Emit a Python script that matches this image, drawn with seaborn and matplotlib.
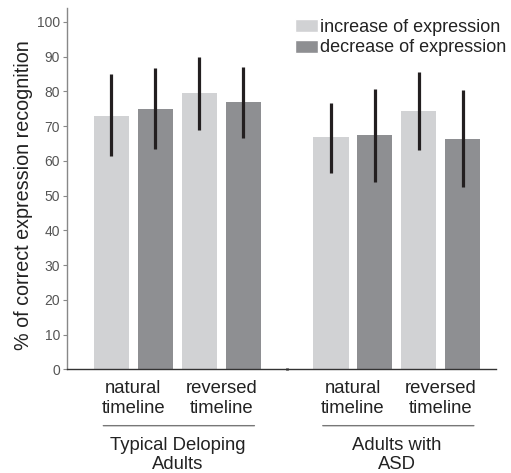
import pandas as pd
import matplotlib.pyplot as plt
import seaborn as sns
from matplotlib.patches import Patch

# data
groups = ["Typical Deloping\nAdults", "Adults with\nASD"]
conditions = ["natural\ntimeline", "reversed\ntimeline"]
expressions = ["increase of expression", "decrease of expression"]

# order: group -> condition -> expression
means = [73.0, 74.9, 79.5, 76.9, 66.9, 67.4, 74.3, 66.3]
err_low = [61.5, 63.3, 68.8, 66.6, 56.4, 54.0, 63.1, 52.5]
err_high = [84.9, 86.6, 89.8, 87.1, 76.7, 80.6, 85.5, 80.4]

light = "#d1d2d4"
dark = "#8e8f92"

rows = []
i = 0
for g, grp in enumerate(groups):
    for c, cond in enumerate(conditions):
        for h, expr in enumerate(expressions):
            rows.append({
                "group": grp, "condition": cond, "expression": expr,
                "pos": g * 5 + c * 2 + h,
                "mean": means[i], "lo": err_low[i], "hi": err_high[i],
            })
            i += 1
df = pd.DataFrame(rows)

sns.set_style("ticks")
plt.rcParams["font.family"] = ["Liberation Sans", "DejaVu Sans"]

fig = plt.figure(figsize=(5.11, 4.73), dpi=100)
ax = fig.add_axes([0.1311, 0.2192, 0.8395, 0.7638])

sns.barplot(data=df, x="pos", y="mean", hue="expression", hue_order=expressions,
            palette=[light, dark], native_scale=True, dodge=False, width=0.8,
            errorbar=None, saturation=1, linewidth=0, legend=False, ax=ax)

# error bars
ax.vlines(df["pos"], df["lo"], df["hi"], color="#231f20", lw=2.3, zorder=3)

ax.set_xlim(-1.014, 8.76)
ax.set_ylim(0, 104)
ax.set_yticks(range(0, 101, 10))
ax.tick_params(axis="y", labelsize=10, labelcolor="#555555", color="#888888",
               length=3, width=0.8, pad=2)

# condition labels under each pair of bars
centers = df.groupby(["group", "condition"], sort=False)["pos"].mean()
ax.set_xticks([4])
ax.set_xticklabels([""])
ax.tick_params(axis="x", which="major", length=2, width=2, direction="inout", color="#111111")
ax.set_xticks(list(centers.values), minor=True)
ax.set_xticklabels([c for (_, c) in centers.index], minor=True, fontsize=13.3, color="#222222")
ax.tick_params(axis="x", which="minor", length=0, pad=8)

# group labels with a line above them
for grp in groups:
    gc = df.loc[df["group"] == grp, "pos"].mean()
    ax.annotate("", xy=(gc - 1.75, -0.156), xytext=(gc + 1.82, -0.156),
                xycoords=("data", "axes fraction"),
                arrowprops=dict(arrowstyle="-", color="#777777", lw=1))
    ax.annotate(grp, xy=(gc, -0.186), xycoords=("data", "axes fraction"),
                ha="center", va="top", fontsize=13.3, color="#222222", linespacing=1.2)

ax.set_xlabel("")
ax.set_ylabel("% of correct expression recognition", fontsize=14.2, color="#222222")
ax.yaxis.set_label_coords(-0.079, 0.482)

sns.despine(ax=ax)
ax.spines["left"].set_color("#888888")
ax.spines["left"].set_linewidth(1)
ax.spines["bottom"].set_color("#333333")
ax.spines["bottom"].set_linewidth(1)

handles = [Patch(facecolor=light), Patch(facecolor=dark)]
ax.legend(handles, expressions, loc="upper right", bbox_to_anchor=(1.05, 1.0),
          frameon=False, fontsize=13, handlelength=1.25, handleheight=0.75,
          handletextpad=0.15, labelspacing=0.2, borderaxespad=0.2,
          labelcolor="#222222")

fig.savefig("out.png", dpi=100)
